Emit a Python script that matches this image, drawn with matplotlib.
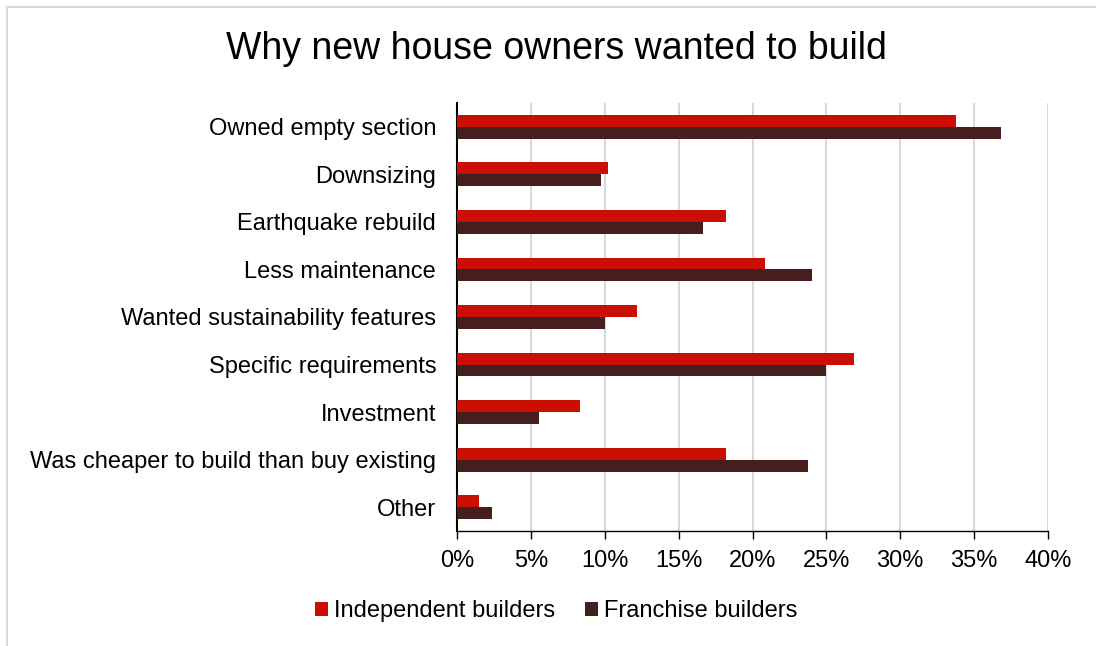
import matplotlib
matplotlib.use("Agg")
import matplotlib.pyplot as plt
import numpy as np
from matplotlib.patches import Rectangle

plt.rcParams['font.family'] = ['Liberation Sans', 'DejaVu Sans']

reasons = ["Owned empty section", "Downsizing", "Earthquake rebuild", "Less maintenance",
           "Wanted sustainability features", "Specific requirements", "Investment",
           "Was cheaper to build than buy existing", "Other"]
independent = [33.8, 10.2, 18.2, 20.85, 12.2, 26.9, 8.3, 18.2, 1.5]
franchise = [36.8, 9.75, 16.65, 24.0, 10.0, 25.0, 5.55, 23.75, 2.4]
xticks = [0, 5, 10, 15, 20, 25, 30, 35, 40]

red = "#CC0E00"
brown = "#461E1E"

fig = plt.figure(figsize=(10.96, 6.46), dpi=100)
ax = fig.add_axes([457 / 1096, 1 - 531 / 646, (1048 - 457) / 1096, (531 - 103) / 646])

# frame around the whole chart area
fig.patches.append(Rectangle((7 / 1096, -0.05), 1.1, 1 - 7 / 646 + 0.05,
                             transform=fig.transFigure, fill=False,
                             edgecolor="#D9D9D9", linewidth=1.5))

y = np.arange(len(reasons))
h = 0.25
ax.barh(y - h / 2, independent, height=h, color=red, label="Independent builders", zorder=3)
ax.barh(y + h / 2, franchise, height=h, color=brown, label="Franchise builders", zorder=3)

ax.set_ylim(len(reasons) - 0.5, -0.5)
ax.set_yticks(y)
ax.set_yticklabels(reasons, fontsize=17)
ax.tick_params(axis="y", length=0, pad=15)

ax.set_xlim(0, 40)
ax.set_xticks(xticks)
ax.set_xticklabels([f"{t}%" for t in xticks], fontsize=17)
ax.tick_params(axis="x", direction="out", length=6, width=1, pad=8)
ax.grid(axis="x", color="#D9D9D9", linewidth=1.5, zorder=0)

for s in ["top", "right"]:
    ax.spines[s].set_visible(False)
ax.spines["left"].set_linewidth(1.5)
ax.spines["bottom"].set_linewidth(1)

fig.text(556 / 1096, 1 - 49 / 646, "Why new house owners wanted to build",
         ha="center", va="center", fontsize=27)

fig.legend(loc="center", bbox_to_anchor=(556 / 1096, 1 - 611 / 646), ncol=2,
           frameon=False, fontsize=17, handlelength=0.55, handleheight=0.55,
           handletextpad=0.25, columnspacing=1.25)

fig.savefig("out.png", dpi=100)
